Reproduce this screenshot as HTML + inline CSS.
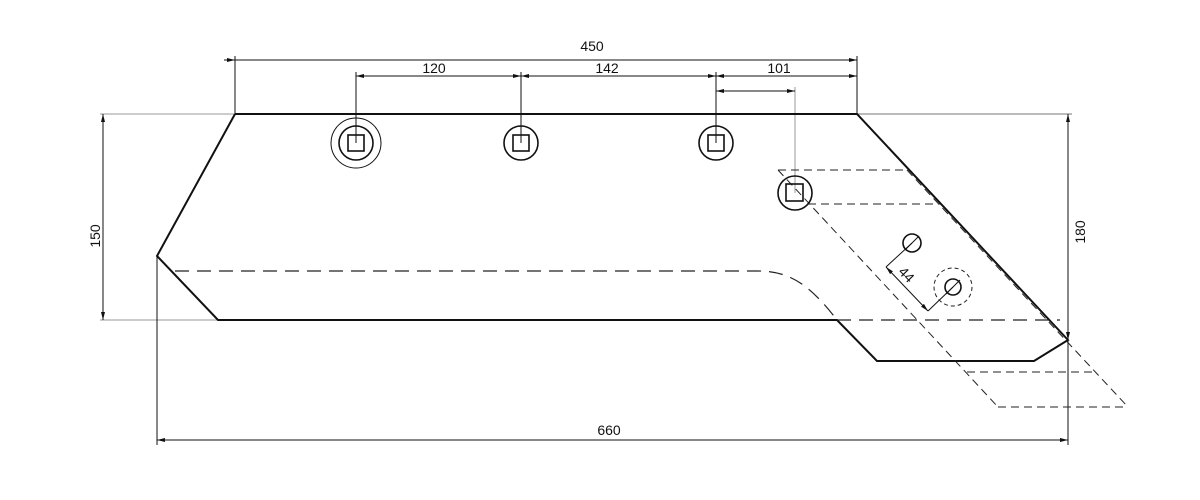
<!DOCTYPE html>
<html><head><meta charset="utf-8"><style>
html,body{margin:0;padding:0;background:#fff;width:1200px;height:500px;overflow:hidden}
text{font-family:"Liberation Sans",sans-serif;font-size:14px;fill:#111}
</style></head><body>
<svg width="1200" height="500" viewBox="0 0 1200 500" xmlns="http://www.w3.org/2000/svg">
<defs>
<marker id="a" markerWidth="8" markerHeight="4" refX="8" refY="2" orient="auto-start-reverse" markerUnits="userSpaceOnUse"><path d="M0,0 L8,2 L0,4z" fill="#111"/></marker>
</defs>
<g fill="none" stroke="#111" stroke-width="1">
<line x1="235" y1="56" x2="235" y2="114"/>
<line x1="857" y1="56" x2="857" y2="114"/>
<line x1="356" y1="72" x2="356" y2="143"/>
<line x1="521" y1="72" x2="521" y2="143"/>
<line x1="716" y1="72" x2="716" y2="143"/>
<line x1="795" y1="87" x2="795" y2="193" stroke="#999"/>
<line x1="100" y1="114" x2="235" y2="114" stroke="#999"/>
<line x1="100" y1="320" x2="218" y2="320" stroke="#999"/>
<line x1="857" y1="114" x2="1072" y2="114" stroke="#777"/>
<line x1="1068" y1="114" x2="1068" y2="445"/>
<line x1="157" y1="256" x2="157" y2="445"/>
<line x1="230" y1="60" x2="857" y2="60" marker-end="url(#a)"/>
<line x1="224" y1="60" x2="235" y2="60" marker-end="url(#a)"/>
<line x1="356" y1="76" x2="521" y2="76" marker-start="url(#a)" marker-end="url(#a)"/>
<line x1="521" y1="76" x2="716" y2="76" marker-start="url(#a)" marker-end="url(#a)"/>
<line x1="716" y1="76" x2="857" y2="76" marker-start="url(#a)" marker-end="url(#a)"/>
<line x1="716" y1="91" x2="795" y2="91" marker-start="url(#a)" marker-end="url(#a)"/>
<line x1="103" y1="114" x2="103" y2="320" marker-start="url(#a)" marker-end="url(#a)"/>
<line x1="1068" y1="114" x2="1068" y2="340" marker-start="url(#a)" marker-end="url(#a)"/>
<line x1="157" y1="440" x2="1068" y2="440" marker-start="url(#a)" marker-end="url(#a)"/>
<line x1="886" y1="267" x2="928" y2="311" marker-start="url(#a)" marker-end="url(#a)"/>
<line x1="886" y1="267" x2="912" y2="243"/>
<line x1="928" y1="311" x2="953" y2="287"/>
</g>
<g fill="none" stroke="#111" stroke-width="2">
<polyline points="235,114 857,114 1068,340 1034,361 877,361 837,320 218,320 157,256 235,114"/>
</g>
<g fill="none" stroke="#222" stroke-width="1.2" stroke-dasharray="14,8">
<path d="M175,271 L758,271 C790,271 810,285 837,320"/>
<line x1="837" y1="320" x2="1060" y2="320"/>
</g>
<g fill="none" stroke="#222" stroke-width="1" stroke-dasharray="8,5">
<line x1="778" y1="170" x2="907" y2="170"/>
<line x1="808" y1="204" x2="940" y2="204"/>
<line x1="778" y1="170" x2="998" y2="407"/>
<line x1="907" y1="170" x2="1128" y2="407"/>
<line x1="967" y1="372" x2="1095" y2="372"/>
<line x1="998" y1="407" x2="1128" y2="407"/>
<circle cx="953" cy="287" r="19" stroke-dasharray="4,3"/>
</g>
<g fill="none" stroke="#111" stroke-width="1.6">
<circle cx="356" cy="143" r="25" stroke-width="1"/>
<circle cx="356" cy="143" r="17"/>
<rect x="348" y="135" width="16" height="16"/>
<circle cx="521" cy="143" r="17"/>
<rect x="513" y="135" width="16" height="16"/>
<circle cx="716" cy="143" r="17"/>
<rect x="708" y="135" width="16" height="16"/>
<circle cx="795" cy="193" r="17"/>
<rect x="786" y="184" width="17" height="17"/>
<circle cx="912" cy="243" r="9"/>
<line x1="905" y1="250" x2="919" y2="236" stroke-width="1"/>
<circle cx="953" cy="287" r="8"/>
<line x1="946" y1="294" x2="960" y2="280" stroke-width="1"/>
</g>
<text x="592" y="51" text-anchor="middle">450</text>
<text x="434" y="73" text-anchor="middle">120</text>
<text x="607" y="73" text-anchor="middle">142</text>
<text x="779" y="73" text-anchor="middle">101</text>
<text x="609" y="435" text-anchor="middle">660</text>
<text transform="translate(100,236) rotate(-90)" text-anchor="middle">150</text>
<text transform="translate(1085,232) rotate(-90)" text-anchor="middle">180</text>
<text transform="translate(903,278) rotate(46)" text-anchor="middle">44</text>
</svg>
</body></html>
